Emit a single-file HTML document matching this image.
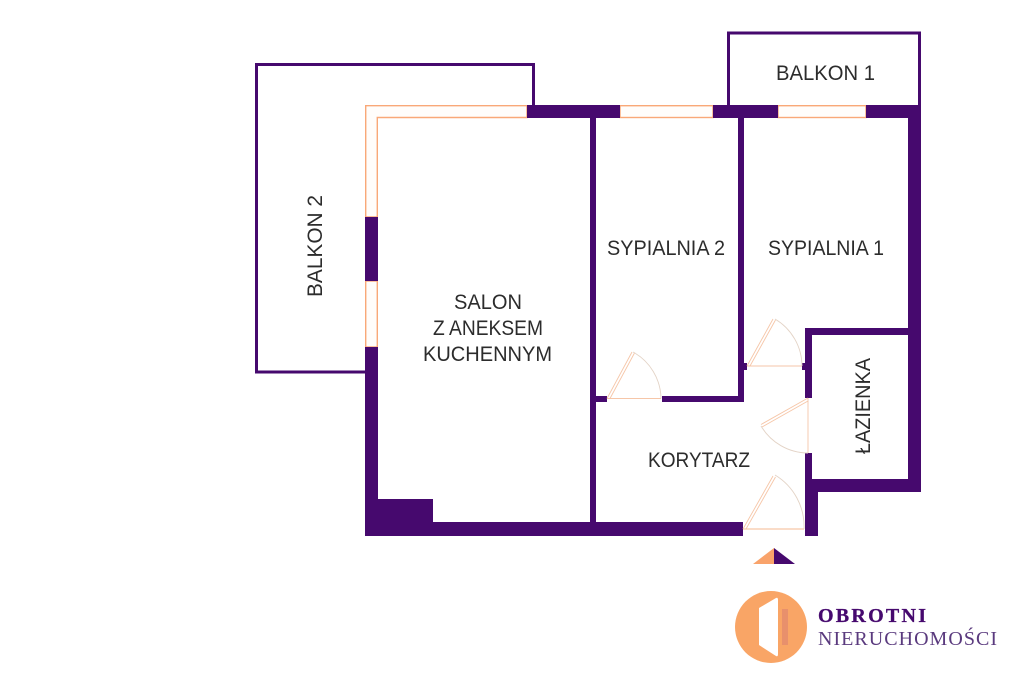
<!DOCTYPE html>
<html lang="pl">
<head>
<meta charset="utf-8">
<title>Rzut mieszkania</title>
<style>
html,body{margin:0;padding:0;background:#fff;width:1024px;height:683px;overflow:hidden}
svg{display:block}
text{font-family:"Liberation Sans",sans-serif;font-size:21px;fill:#2c2c2c}
</style>
</head>
<body>
<svg width="1024" height="683" viewBox="0 0 1024 683" xmlns="http://www.w3.org/2000/svg">
<rect width="1024" height="683" fill="#fff"/>

<!-- balconies -->
<g fill="none" stroke="#46096e" stroke-width="3">
<path d="M533.5 105V64.500H256.500V372H365"/>
<path d="M728.500 105V33H919.500V105"/>
</g>

<!-- windows -->
<g fill="#fffdfb" stroke="#f9a878" stroke-width="1.4">
<path d="M527 105.700H365.700V217H377.300V117.500H527Z"/>
<rect x="365.700" y="281" width="11.600" height="66"/>
<rect x="620" y="105.700" width="93" height="11.800"/>
<rect x="778" y="105.700" width="88" height="11.800"/>
</g>

<!-- walls -->
<g fill="#46096e">
<rect x="527" y="105" width="93" height="13"/>
<rect x="713" y="105" width="65" height="13"/>
<rect x="866" y="105" width="55" height="13"/>
<rect x="908" y="105" width="13" height="387"/>
<rect x="365" y="217" width="13" height="64"/>
<rect x="365" y="347" width="13" height="189"/>
<rect x="365" y="522" width="378" height="14"/>
<rect x="365" y="499" width="68" height="37"/>
<rect x="590" y="118" width="6" height="404"/>
<rect x="738" y="118" width="6" height="284"/>
<rect x="662" y="396" width="82" height="6"/>
<rect x="596" y="396" width="11" height="6"/>
<rect x="744" y="363" width="3" height="7"/>
<rect x="802" y="363" width="3" height="7"/>
<rect x="805" y="328" width="7" height="70"/>
<rect x="805" y="328" width="103" height="7"/>
<rect x="805" y="453" width="7" height="40"/>
<rect x="805" y="479" width="116" height="13"/>
<rect x="805" y="479" width="13" height="57"/>
</g>

<!-- doors -->
<g fill="none" stroke="#f6c6a8" stroke-width="0.9">
<path d="M607 398.500H661"/>
<path d="M607 398.500L632 352M610 398.500L634.500 353"/>
<path d="M633 352A54 54 0 0 1 661 398.500" stroke="#e3d3c6"/>
<path d="M747 366H802"/>
<path d="M747 366L773 319M750 366L775.500 320"/>
<path d="M775 319A55 55 0 0 1 802 366" stroke="#e3d3c6"/>
<path d="M808 398V453"/>
<path d="M808 398L761 424.500M808 401L762 427"/>
<path d="M761 426A55 55 0 0 0 808 453" stroke="#e3d3c6"/>
<path d="M743 529H804" stroke-width="1.2"/>
<path d="M743 529L773 476M746 529L775.500 477"/>
<path d="M775 475A60 60 0 0 1 804 529" stroke="#e3d3c6"/>
</g>

<!-- labels -->
<text x="776" y="80" textLength="99" lengthAdjust="spacingAndGlyphs">BALKON 1</text>
<text x="607" y="255" textLength="118" lengthAdjust="spacingAndGlyphs">SYPIALNIA 2</text>
<text x="768" y="255" textLength="116" lengthAdjust="spacingAndGlyphs">SYPIALNIA 1</text>
<text x="454" y="309" textLength="68" lengthAdjust="spacingAndGlyphs">SALON</text>
<text x="433" y="335" textLength="110" lengthAdjust="spacingAndGlyphs">Z ANEKSEM</text>
<text x="423" y="361" textLength="129" lengthAdjust="spacingAndGlyphs">KUCHENNYM</text>
<text x="648" y="467" textLength="102" lengthAdjust="spacingAndGlyphs">KORYTARZ</text>
<text transform="translate(322 297) rotate(-90)" textLength="102" lengthAdjust="spacingAndGlyphs">BALKON 2</text>
<text transform="translate(870 454) rotate(-90)" textLength="96" lengthAdjust="spacingAndGlyphs">ŁAZIENKA</text>

<!-- entrance marker -->
<path d="M774 548V564H753Z" fill="#f9a36b"/>
<path d="M774 548V564H795Z" fill="#46096e"/>

<!-- logo -->
<circle cx="771" cy="627" r="36" fill="#f9a566"/>
<path d="M759 608L776 598Q778 597 778 600V654Q778 657 776 656L759 645Z" fill="#fff"/>
<rect x="782" y="609" width="6" height="36" fill="#e8906c"/>
<text x="818" y="622" textLength="108" lengthAdjust="spacing" style="font-family:'Liberation Serif',serif;font-weight:700;font-size:20px;fill:#46096e;stroke:#46096e;stroke-width:.3">OBROTNI</text>
<text x="818" y="645" textLength="179" lengthAdjust="spacing" style="font-family:'Liberation Serif',serif;font-size:20px;fill:#5a3a7e">NIERUCHOMOŚCI</text>
</svg>
</body>
</html>
